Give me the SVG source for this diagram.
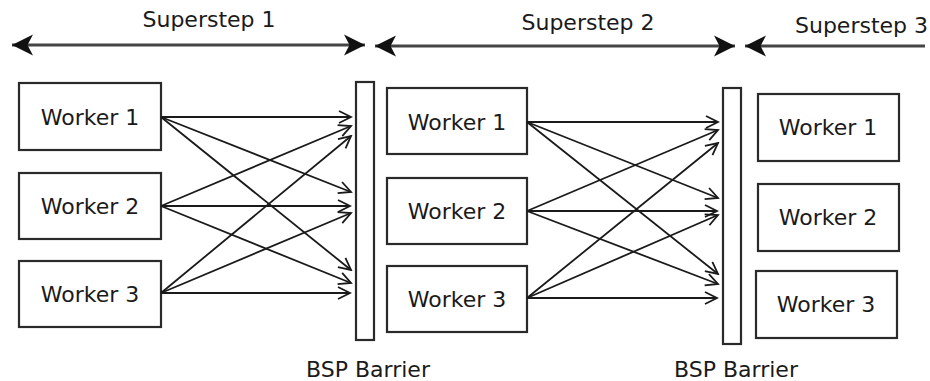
<svg xmlns="http://www.w3.org/2000/svg" width="930" height="381" viewBox="0 0 930 381">
<style>
  .box { fill: #fff; stroke: #2a2a2a; stroke-width: 2.2; }
  .bar { fill: #fff; stroke: #2a2a2a; stroke-width: 2.2; }
  .lbl { font-family: "DejaVu Sans", sans-serif; font-size: 22px; fill: #1a1a1a; text-anchor: middle; }
  .msg { stroke: #1a1a1a; stroke-width: 1.8; fill: none; marker-end: url(#open); }
  .span { stroke: #444; stroke-width: 2.8; fill: none; }
</style>
<defs>
  <marker id="open" markerUnits="userSpaceOnUse" viewBox="-15 -9 17 18" markerWidth="17" markerHeight="18" refX="0" refY="0" orient="auto">
    <path d="M-12,-6 L0,0 L-12,6" fill="none" stroke="#1a1a1a" stroke-width="1.8"/>
  </marker>
  <marker id="solid" markerUnits="userSpaceOnUse" viewBox="-23 -12 25 24" markerWidth="25" markerHeight="24" refX="0" refY="0" orient="auto-start-reverse">
    <path d="M0,0 L-21,-10.5 L-15.5,0 L-21,10.5 Z" fill="#111"/>
  </marker>
</defs>

<g id="timeline">
  <line class="span" x1="12" y1="45" x2="365" y2="45" marker-start="url(#solid)" marker-end="url(#solid)"/>
  <line class="span" x1="375" y1="46" x2="735" y2="46" marker-start="url(#solid)" marker-end="url(#solid)"/>
  <line class="span" x1="745" y1="46" x2="925" y2="46" marker-start="url(#solid)"/>
  <text class="lbl" x="209" y="27">Superstep 1</text>
  <text class="lbl" x="588" y="30">Superstep 2</text>
  <text class="lbl" x="795" y="33" style="text-anchor:start">Superstep 3</text>
</g>

<g id="s1-worker1"><rect class="box" x="19" y="83" width="142" height="67"/><text class="lbl" x="90" y="125">Worker 1</text></g>
<g id="s1-worker2"><rect class="box" x="19" y="173" width="142" height="66"/><text class="lbl" x="90" y="214">Worker 2</text></g>
<g id="s1-worker3"><rect class="box" x="19" y="261" width="142" height="66"/><text class="lbl" x="90" y="302">Worker 3</text></g>

<g id="barrier1"><rect class="bar" x="356" y="82" width="18" height="258"/><text class="lbl" x="368" y="377">BSP Barrier</text></g>

<g id="s2-worker1"><rect class="box" x="387" y="88" width="140" height="66"/><text class="lbl" x="457" y="130">Worker 1</text></g>
<g id="s2-worker2"><rect class="box" x="387" y="178" width="140" height="66"/><text class="lbl" x="457" y="219">Worker 2</text></g>
<g id="s2-worker3"><rect class="box" x="387" y="266" width="140" height="66"/><text class="lbl" x="457" y="307">Worker 3</text></g>

<g id="barrier2"><rect class="bar" x="723" y="88" width="18" height="256"/><text class="lbl" x="736" y="377">BSP Barrier</text></g>

<g id="s3-worker1"><rect class="box" x="758" y="94" width="141" height="67"/><text class="lbl" x="828" y="135">Worker 1</text></g>
<g id="s3-worker2"><rect class="box" x="758" y="184" width="141" height="67"/><text class="lbl" x="828" y="225">Worker 2</text></g>
<g id="s3-worker3"><rect class="box" x="756" y="271" width="141" height="67"/><text class="lbl" x="826" y="312">Worker 3</text></g>

<g id="connectors">
  <line class="msg" x1="161" y1="117" x2="351" y2="117"/>
  <line class="msg" x1="161" y1="117" x2="351" y2="192"/>
  <line class="msg" x1="161" y1="117" x2="351" y2="270"/>
  <line class="msg" x1="161" y1="206" x2="351" y2="126"/>
  <line class="msg" x1="161" y1="206" x2="350" y2="206"/>
  <line class="msg" x1="161" y1="206" x2="351" y2="283"/>
  <line class="msg" x1="161" y1="293" x2="351" y2="136"/>
  <line class="msg" x1="161" y1="293" x2="351" y2="213"/>
  <line class="msg" x1="161" y1="293" x2="350" y2="293"/>

  <line class="msg" x1="527" y1="122" x2="718" y2="122"/>
  <line class="msg" x1="527" y1="122" x2="718" y2="198"/>
  <line class="msg" x1="527" y1="122" x2="718" y2="274"/>
  <line class="msg" x1="527" y1="211" x2="718" y2="130"/>
  <line class="msg" x1="527" y1="211" x2="717" y2="211"/>
  <line class="msg" x1="527" y1="211" x2="718" y2="284"/>
  <line class="msg" x1="527" y1="298" x2="718" y2="143"/>
  <line class="msg" x1="527" y1="298" x2="718" y2="215"/>
  <line class="msg" x1="527" y1="298" x2="717" y2="298"/>
</g>
</svg>
